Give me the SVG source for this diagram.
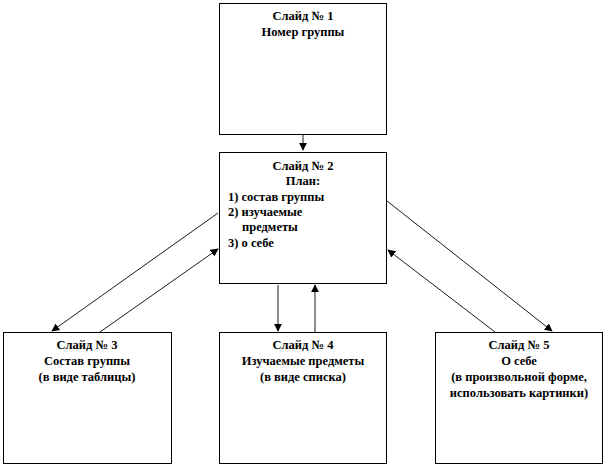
<svg xmlns="http://www.w3.org/2000/svg" width="606" height="467" viewBox="0 0 606 467">
<defs>
<marker id="ah" viewBox="0 0 10 10" refX="9" refY="5" markerWidth="8" markerHeight="8" markerUnits="userSpaceOnUse" orient="auto">
<path d="M0,0 L10,5 L0,10 z" fill="#000"/>
</marker>
</defs>
<rect width="606" height="467" fill="#fff"/>
<g id="connectors" stroke="#000" stroke-width="0.9" fill="none" marker-end="url(#ah)">
<line x1="303" y1="116" x2="303" y2="150"/>
<line x1="278" y1="285" x2="278" y2="331"/>
<line x1="315" y1="332" x2="315" y2="285"/>
<line x1="218" y1="213" x2="52" y2="331"/>
<line x1="100" y1="332" x2="218" y2="249"/>
<line x1="387" y1="201" x2="552" y2="331"/>
<line x1="495" y1="332" x2="388" y2="250"/>
</g>
<g id="slide1">
<rect x="219.5" y="3.5" width="167" height="131" fill="#fff" stroke="#000"/>
<text font-family="Liberation Serif" font-size="12.5" font-weight="bold" text-anchor="middle" x="303" y="20">Слайд  № 1</text>
<text font-family="Liberation Serif" font-size="12.5" font-weight="bold" text-anchor="middle" x="303" y="36">Номер группы</text>
</g>
<g id="slide2">
<rect x="219.5" y="152.5" width="167" height="131" fill="#fff" stroke="#000"/>
<text font-family="Liberation Serif" font-size="12.5" font-weight="bold" text-anchor="middle" x="303" y="170">Слайд  № 2</text>
<text font-family="Liberation Serif" font-size="12.5" font-weight="bold" text-anchor="middle" x="303" y="185">План:</text>
<text font-family="Liberation Serif" font-size="12.5" font-weight="bold" x="228" y="201">1) состав группы</text>
<text font-family="Liberation Serif" font-size="12.5" font-weight="bold" x="228" y="216">2) изучаемые</text>
<text font-family="Liberation Serif" font-size="12.5" font-weight="bold" x="242" y="231">предметы</text>
<text font-family="Liberation Serif" font-size="12.5" font-weight="bold" x="228" y="247">3) о себе</text>
</g>
<g id="slide3">
<rect x="3.5" y="332.5" width="168" height="131" fill="#fff" stroke="#000"/>
<text font-family="Liberation Serif" font-size="12.5" font-weight="bold" text-anchor="middle" x="87" y="349">Слайд  № 3</text>
<text font-family="Liberation Serif" font-size="12.5" font-weight="bold" text-anchor="middle" x="87" y="365">Состав группы</text>
<text font-family="Liberation Serif" font-size="12.5" font-weight="bold" text-anchor="middle" x="87" y="381">(в виде таблицы)</text>
</g>
<g id="slide4">
<rect x="219.5" y="332.5" width="167" height="131" fill="#fff" stroke="#000"/>
<text font-family="Liberation Serif" font-size="12.5" font-weight="bold" text-anchor="middle" x="303" y="349">Слайд  № 4</text>
<text font-family="Liberation Serif" font-size="12.5" font-weight="bold" text-anchor="middle" x="303" y="365">Изучаемые предметы</text>
<text font-family="Liberation Serif" font-size="12.5" font-weight="bold" text-anchor="middle" x="303" y="381">(в виде  списка)</text>
</g>
<g id="slide5">
<rect x="435.5" y="332.5" width="167" height="131" fill="#fff" stroke="#000"/>
<text font-family="Liberation Serif" font-size="12.5" font-weight="bold" text-anchor="middle" x="519" y="349">Слайд  № 5</text>
<text font-family="Liberation Serif" font-size="12.5" font-weight="bold" text-anchor="middle" x="519" y="365">О себе</text>
<text font-family="Liberation Serif" font-size="12.5" font-weight="bold" text-anchor="middle" x="519" y="381">(в произвольной форме,</text>
<text font-family="Liberation Serif" font-size="12.5" font-weight="bold" text-anchor="middle" x="519" y="397">использовать  картинки)</text>
</g>
</svg>
